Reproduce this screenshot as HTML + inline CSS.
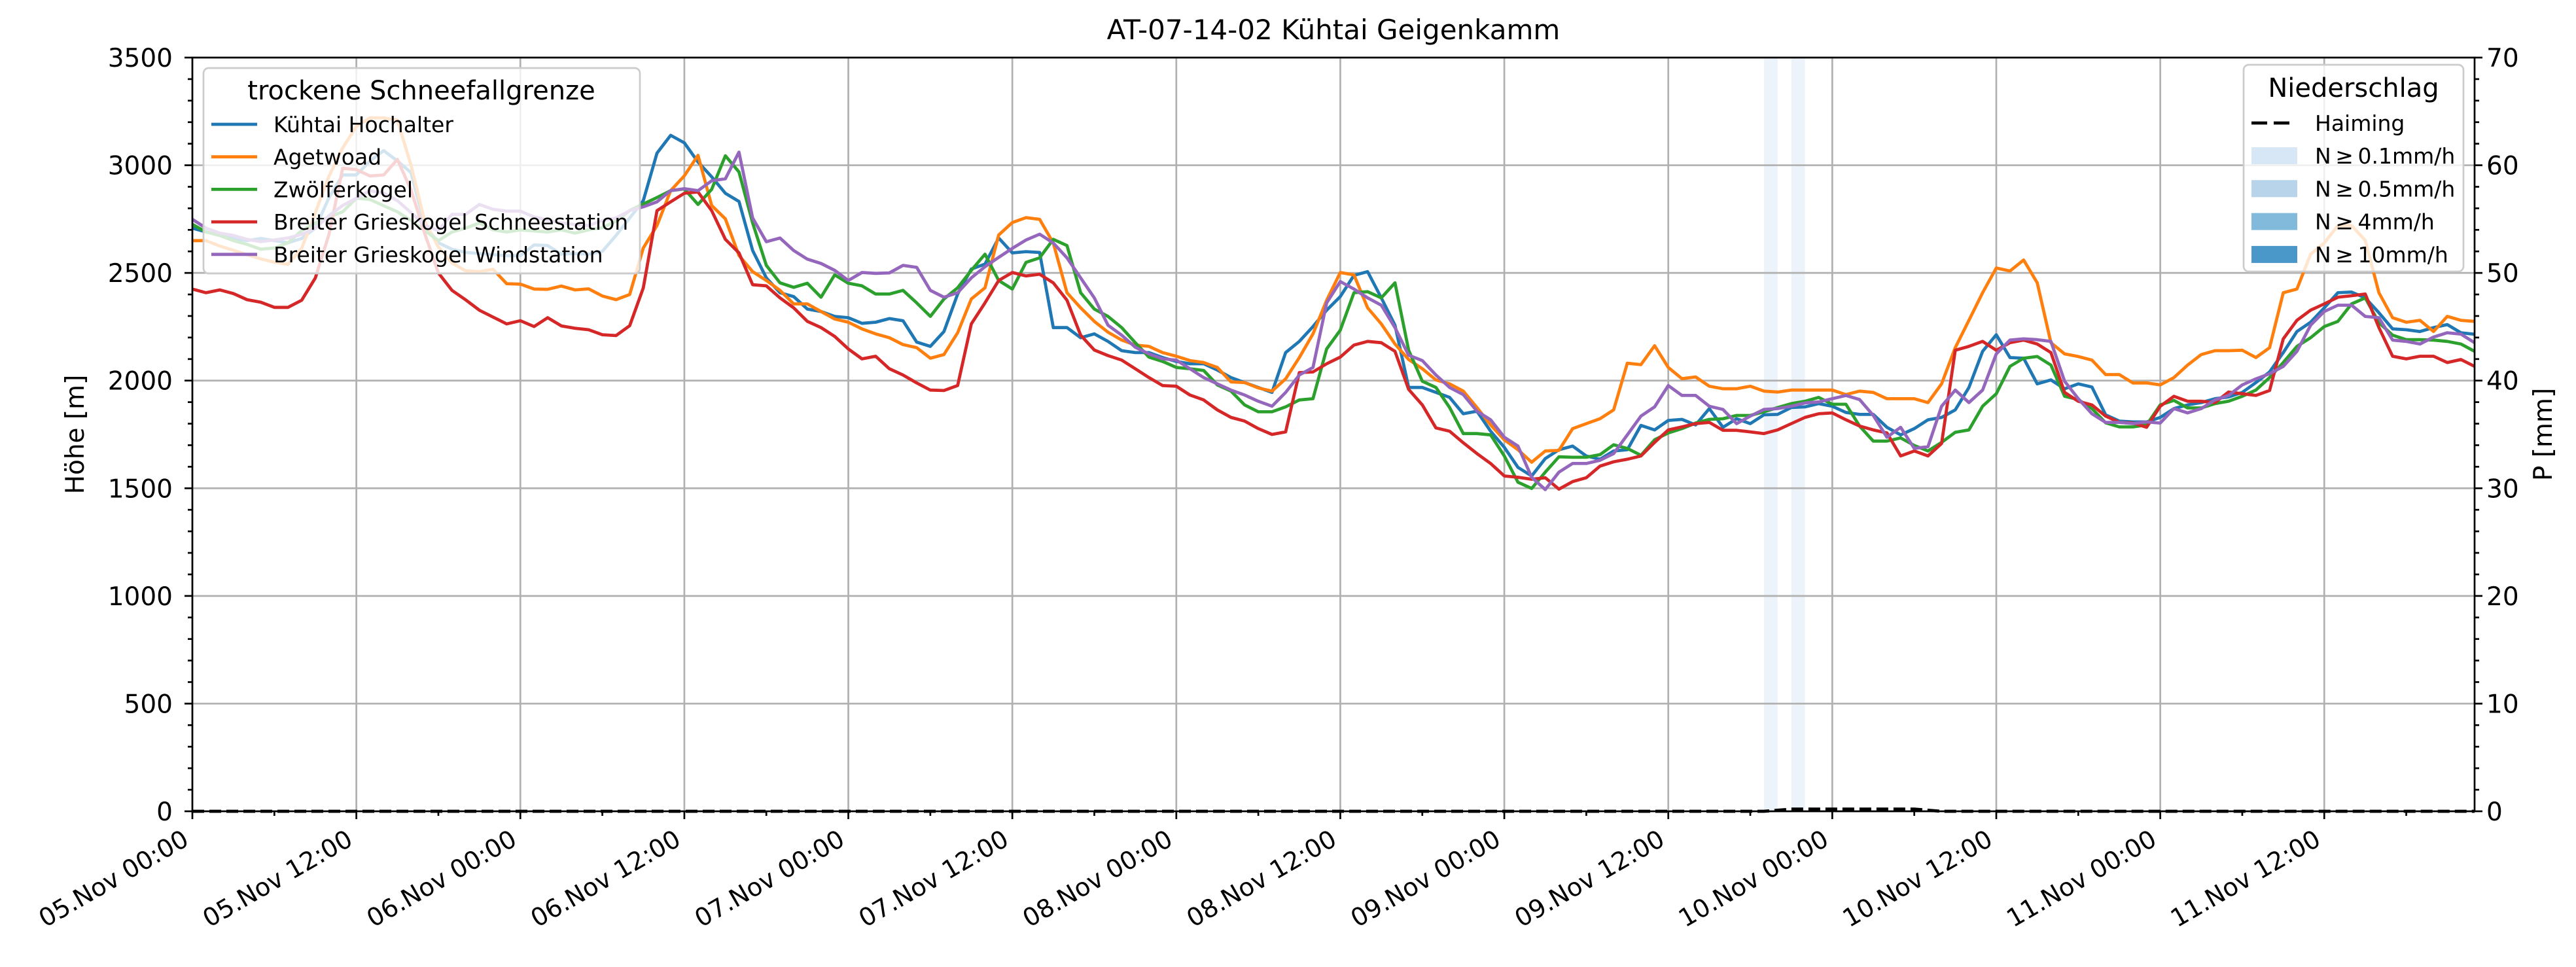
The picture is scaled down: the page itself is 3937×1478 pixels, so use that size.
<!DOCTYPE html>
<html><head><meta charset="utf-8">
<style>
html,body{margin:0;padding:0;background:#fff;}
svg{display:block;font-family:"DejaVu Sans","Liberation Sans",sans-serif;}
</style></head>
<body>
<svg id="chart" width="3937" height="1478" viewBox="0 0 3937 1478" xmlns="http://www.w3.org/2000/svg">
<rect x="0" y="0" width="3937" height="1478" fill="#fff"/>
<text x="2038" y="60" font-size="42" text-anchor="middle">AT-07-14-02 Kühtai Geigenkamm</text>
<g id="bands"></g>
<g id="grid"></g>
<g id="series"></g>
<g id="axes"></g>
<g id="legends"></g>
</svg>
<script>
// ---- data (hourly, starting 05.Nov 00:00) ----
const xTickLabels = ["05.Nov 00:00","05.Nov 12:00","06.Nov 00:00","06.Nov 12:00","07.Nov 00:00","07.Nov 12:00","08.Nov 00:00","08.Nov 12:00","09.Nov 00:00","09.Nov 12:00","10.Nov 00:00","10.Nov 12:00","11.Nov 00:00","11.Nov 12:00"];
const yTicks = [0,500,1000,1500,2000,2500,3000,3500];
const pTicks = [0,10,20,30,40,50,60,70];
const seriesNames = ["Kühtai Hochalter","Agetwoad","Zwölferkogel","Breiter Grieskogel Schneestation","Breiter Grieskogel Windstation"];
const kuehtai = [2708,2690,2675,2660,2650,2660,2650,2640,2660,2708,
2850,2955,2955,3020,3068,3020,2966,2723,
2640,2610,2595,2590,2585,2580,2580,2630,2627,2587,2590,2587,2600,
2674,2755,2836,3056,3139,3104,3015,2946,2870,2832,2604,2477,2408,
2390,2332,2321,2298,2292,2266,2271,2288,2278,2179,2159,2228,2402,2518,2541,2662,2593,2599,2595,2246,2246,2199,2217,2182,2139,2130,2130,2107,2089,2078,2078,2049,2014,1991,1968,1945,2130,2182,2251,2327,2390,2489,2506,
2384,2257,1968,1968,1945,1922,1846,1858,1765,1690,1597,1557,1638,1679,1696,1650,1635,1673,1679,1792,1771,1815,1820,1794,1870,1783,1823,1800,1841,1843,1875,1878,1893,1881,1852,1843,1843,1783,1748,1777,1818,1829,1864,
1968,2136,2213,2107,2104,1985,2003,1962,1985,1970,1841,1812,1808,1808,1829,1870,1887,1898,1916,1924,1945,1991,2040,2130,2228,2271,2338,2408,2411,2384,2315,2240,2236,2228,2246,2260,2222,2215];
const agetwoad = [2650,2650,2625,2605,2585,2565,2550,2540,2615,2780,2950,3080,3180,3220,3220,3210,3000,2740,
2620,2546,2510,2506,2517,2450,2448,2425,2424,2439,2421,2426,2393,2376,2400,2616,2720,2882,2951,3046,2813,2751,2581,2506,2465,2419,
2356,2356,2321,2286,2271,2240,2217,2199,2167,2153,2104,2121,2222,2379,2431,2676,2734,2757,2749,2639,2408,2338,2275,2225,2188,2165,2159,2130,2113,2093,2084,2061,1994,1991,1966,1951,2008,2107,2217,2373,2502,2491,2338,
2263,2170,2098,2055,2003,1985,1951,1875,1794,1725,1679,1621,1673,1676,1777,1800,1823,1864,2081,2074,2162,2061,2009,2017,1974,1962,1962,1974,1951,1947,1956,1956,1956,1956,1935,1951,1945,1916,1916,1916,1898,1985,2153,
2280,2408,2523,2509,2560,2454,2176,2124,2112,2095,2028,2028,1989,1989,1980,2014,2072,2121,2139,2139,2141,2107,2153,2408,2425,2587,2639,2720,2720,2651,2408,2292,2271,2280,2228,2298,2280,2275];
const zwoelfer = [2726,2690,2674,2650,2633,2610,2616,2640,2697,2732,
2760,2784,2847,2841,2812,2784,2743,2697,2650,2690,2708,2732,
2700,2690,2700,2695,2690,2700,2685,2700,2710,2740,2790,2820,2850,2882,2890,2818,2888,3044,2969,2732,2535,2454,
2433,2452,2387,2491,2452,2440,2402,2402,2419,2361,2298,2379,2431,2512,2587,2465,2425,2549,2570,2656,2627,2408,2332,2298,2246,2176,2109,2089,2061,2055,2047,1980,1951,1887,1855,1855,1878,1910,1916,2147,2234,2408,2413,
2384,2454,2141,1997,1968,1875,1754,1754,1748,1650,1528,1499,1575,1646,1644,1644,1656,1702,1685,1653,1725,1757,1777,1803,1820,1823,1838,1838,1855,1875,1893,1904,1922,1890,1890,1789,1719,1719,1734,1699,1673,1713,1760,
1771,1881,1939,2066,2104,2112,2072,1927,1912,1870,1804,1785,1785,1794,1887,1908,1873,1873,1893,1904,1927,1956,2014,2084,2159,2199,2251,2275,2356,2384,2269,2211,2190,2190,2188,2182,2170,2136];
const schneestation = [2425,2408,2421,2404,2376,2364,2340,2340,2373,2477,
2680,2986,2980,2950,2955,3027,2885,2683,
2500,2419,2375,2327,2295,2263,2278,2251,2292,2254,2243,2236,2213,2209,2255,2431,2789,2830,2870,2876,2789,2656,2593,2445,2440,2384,
2338,2275,2246,2205,2147,2101,2113,2055,2026,1989,1956,1954,1977,2263,2361,2465,2502,2486,2494,2454,2373,2211,2142,2116,2095,2055,2014,1977,1974,1933,1910,1864,1829,1812,1777,1750,1762,2037,2040,2078,2109,2165,2182,
2176,2136,1959,1887,1780,1765,1711,1661,1615,1557,1551,1542,1549,1496,1531,1549,1603,1623,1635,1650,1713,1771,1785,1800,1806,1769,1769,1762,1754,1771,1800,1829,1846,1850,1818,1789,1771,1757,1650,1673,1650,1708,2141,
2159,2182,2141,2176,2188,2170,2130,1945,1904,1887,1835,1806,1803,1783,1881,1927,1904,1904,1898,1947,1939,1931,1954,2194,2280,2327,2356,2387,2394,2402,2246,2113,2101,2113,2113,2084,2098,2066];
const windstation = [2749,2708,2685,2674,2656,2645,2653,2662,2679,2708,2766,2813,2847,2882,2870,
2836,2780,2720,
2697,2772,2772,2818,2795,2787,2787,2760,2745,2732,2725,2720,2743,2755,2789,2807,2830,2882,2891,2882,2928,2937,3061,2755,2645,2662,
2604,2564,2544,2512,2465,2502,2498,2500,2535,2526,2419,2387,2408,2477,2529,2572,2614,2653,2680,2639,2570,2477,2384,2257,2211,2155,2124,2101,2095,2055,2014,1985,1956,1933,1904,1881,1945,2026,2061,2361,2460,2425,2384,
2350,2246,2118,2093,2026,1968,1935,1858,1818,1737,1696,1551,1494,1575,1615,1615,1630,1661,1748,1835,1878,1977,1931,1931,1881,1866,1800,1835,1866,1870,1881,1896,1901,1916,1931,1912,1838,1737,1783,1685,1693,1881,1956,
1898,1956,2124,2188,2194,2190,2182,1997,1916,1846,1806,1806,1800,1808,1803,1870,1850,1870,1910,1931,1980,2008,2032,2066,2136,2257,2321,2350,2350,2298,2292,2188,2182,2170,2202,2222,2216,2176];
const haiming = [0,0,0,0,0,0,0,0,0,0,0,0,
0,0,0,0,0,0,0,0,0,0,0,0,
0,0,0,0,0,0,0,0,0,0,0,0,
0,0,0,0,0,0,0,0,0,0,0,0,
0,0,0,0,0,0,0,0,0,0,0,0,
0,0,0,0,0,0,0,0,0,0,0,0,
0,0,0,0,0,0,0,0,0,0,0,0,
0,0,0,0,0,0,0,0,0,0,0,0,
0,0,0,0,0,0,0,0,0,0,0,0,
0,0,0,0,0,0,0,0,0.1,0.2,0.2,0.2,
0.2,0.2,0.2,0.2,0.2,0.2,0.2,0.1,0,0,0,0,
0,0,0,0,0,0,0,0,0,0,0,0,
0,0,0,0,0,0,0,0,0,0,0,0,
0,0,0,0,0,0,0,0,0,0,0,0];
const bandHours = [115,117];
const bandClass = [0,0];
const precipLegend = ["N\u2009\u2265\u20090.1mm/h","N\u2009\u2265\u20090.5mm/h","N\u2009\u2265\u20094mm/h","N\u2009\u2265\u200910mm/h"];

// ---- geometry ----
const L=294,R=3782,T=88,B=1240,H0=0,H1=167;
const xs=h=>L+(h-H0)*(R-L)/(H1-H0);
const ys=v=>B-v*(B-T)/3500;
const yp=p=>B-p*(B-T)/70;
const NS="http://www.w3.org/2000/svg";
function mk(tag,attrs,parent){const e=document.createElementNS(NS,tag);for(const k in attrs)e.setAttribute(k,attrs[k]);parent.appendChild(e);return e;}
const gB=document.getElementById('bands'),gG=document.getElementById('grid'),gS=document.getElementById('series'),gA=document.getElementById('axes'),gL=document.getElementById('legends');
const bandColors=["#edf3fa","#b7d4ea","#82badb","#4a98c9"];

bandHours.forEach((h,i)=>{
  const r=mk('rect',{x:xs(h),y:T,width:xs(h+1)-xs(h),height:B-T,fill:bandColors[bandClass[i]]},gB);
  
  
});

xTickLabels.forEach((lab,i)=>{
  const x=xs(i*12);
  const l=mk('line',{x1:x,x2:x,y1:T,y2:B,stroke:'#b0b0b0','stroke-width':2.7},gG);
  
  
});
yTicks.forEach(v=>{
  const l=mk('line',{x1:L,x2:R,y1:ys(v),y2:ys(v),stroke:'#b0b0b0','stroke-width':2.7},gG);
  
  
});

const colors=["#1f77b4","#ff7f0e","#2ca02c","#d62728","#9467bd"];
const allSeries=[kuehtai,agetwoad,zwoelfer,schneestation,windstation];
const sKeys=["kuehtai-hochalter-line","agetwoad-line","zwoelferkogel-line","schneestation-line","windstation-line"];
allSeries.forEach((s,k)=>{
  const d=s.map((v,i)=>(i?'L':'M')+xs(i).toFixed(1)+','+ys(v).toFixed(1)).join('');
  const p=mk('path',{d:d,fill:'none',stroke:colors[k],'stroke-width':4.8,'stroke-linejoin':'round'},gS);
  
  
});
{
  const d=haiming.map((v,i)=>(i?'L':'M')+xs(i).toFixed(1)+','+yp(v).toFixed(1)).join('');
  const p=mk('path',{d:d,fill:'none',stroke:'#000','stroke-width':4.8,'stroke-dasharray':'18,8'},gS);
  
  
}

const fr=mk('rect',{x:L,y:T,width:R-L,height:B-T,fill:'none',stroke:'#000','stroke-width':2.7},gA);


for(let v=0;v<=3500;v+=100){
  const major=v%500===0;
  const t=mk('line',{x1:L,x2:L-(major?12:7),y1:ys(v),y2:ys(v),stroke:'#000','stroke-width':2.7},gA);
  
  
}
yTicks.forEach(v=>{
  const t=mk('text',{x:L-30,y:ys(v)+14,'font-size':39,'text-anchor':'end'},gA);
  t.textContent=v;
  
  
});
for(let p=0;p<=70;p+=2){
  const major=p%10===0;
  const t=mk('line',{x1:R,x2:R+(major?12:7),y1:yp(p),y2:yp(p),stroke:'#000','stroke-width':2.7},gA);
  
  
}
pTicks.forEach(p=>{
  const t=mk('text',{x:R+18,y:yp(p)+14,'font-size':39,'text-anchor':'start'},gA);
  t.textContent=p;
  
  
});
for(let h=0;h<=H1;h+=6){
  const major=h%12===0;
  const t=mk('line',{x1:xs(h),x2:xs(h),y1:B,y2:B+(major?12:7),stroke:'#000','stroke-width':2.7},gA);
  
  
}
xTickLabels.forEach((lab,i)=>{
  const x=xs(i*12)-3;
  const t=mk('text',{x:0,y:0,'font-size':38,'text-anchor':'end',transform:`translate(${x.toFixed(1)},1290) rotate(-30)`},gA);
  t.textContent=lab;
  
  
});
</script>
<script>
(function(){
const NS="http://www.w3.org/2000/svg";
function mk(tag,attrs,parent){const e=document.createElementNS(NS,tag);for(const k in attrs)e.setAttribute(k,attrs[k]);parent.appendChild(e);return e;}
const gA=document.getElementById('axes'),gL=document.getElementById('legends');
const yl=mk('text',{x:0,y:0,'font-size':39,'text-anchor':'middle',transform:'translate(128,664) rotate(-90)'},gA);
yl.textContent='Höhe [m]';


const pl=mk('text',{x:0,y:0,'font-size':39,'text-anchor':'middle',transform:'translate(3900,664) rotate(-90)'},gA);
pl.textContent='P [mm]';



const lg1=mk('g',{},gL);


mk('rect',{x:311,y:104,width:667,height:314,rx:8,fill:'#fff','fill-opacity':0.8,stroke:'#cccccc','stroke-width':2.7},lg1);
const t1=mk('text',{x:644,y:152,'font-size':40,'text-anchor':'middle'},lg1);
t1.textContent='trockene Schneefallgrenze';


const colors=["#1f77b4","#ff7f0e","#2ca02c","#d62728","#9467bd"];
seriesNames.forEach((n,i)=>{
  const y=190+i*49.7;
  const ln=mk('line',{x1:323,x2:393,y1:y,y2:y,stroke:colors[i],'stroke-width':4.8},lg1);
  
  
  const tx=mk('text',{x:418,y:y+12,'font-size':33},lg1);
  tx.textContent=n;
  
  
});
const lg2=mk('g',{},gL);


mk('rect',{x:3429,y:99,width:336,height:316,rx:8,fill:'#fff','fill-opacity':0.8,stroke:'#cccccc','stroke-width':2.7},lg2);
const t2=mk('text',{x:3597,y:148,'font-size':40,'text-anchor':'middle'},lg2);
t2.textContent='Niederschlag';


const hl=mk('line',{x1:3441,x2:3501,y1:188,y2:188,stroke:'#000','stroke-width':4.8,'stroke-dasharray':'24,10'},lg2);


const ht=mk('text',{x:3538,y:200,'font-size':33},lg2);
ht.textContent='Haiming';


const lc=["#d8e7f5","#b7d4ea","#82badb","#4a98c9"];
precipLegend.forEach((n,i)=>{
  const yc=238+i*50.3;
  const r=mk('rect',{x:3441,y:yc-13,width:70,height:26,fill:lc[i]},lg2);
  
  
  const tx=mk('text',{x:3538,y:yc+12,'font-size':33},lg2);
  tx.textContent=n;
  
  
});
})();
</script>
</body></html>
